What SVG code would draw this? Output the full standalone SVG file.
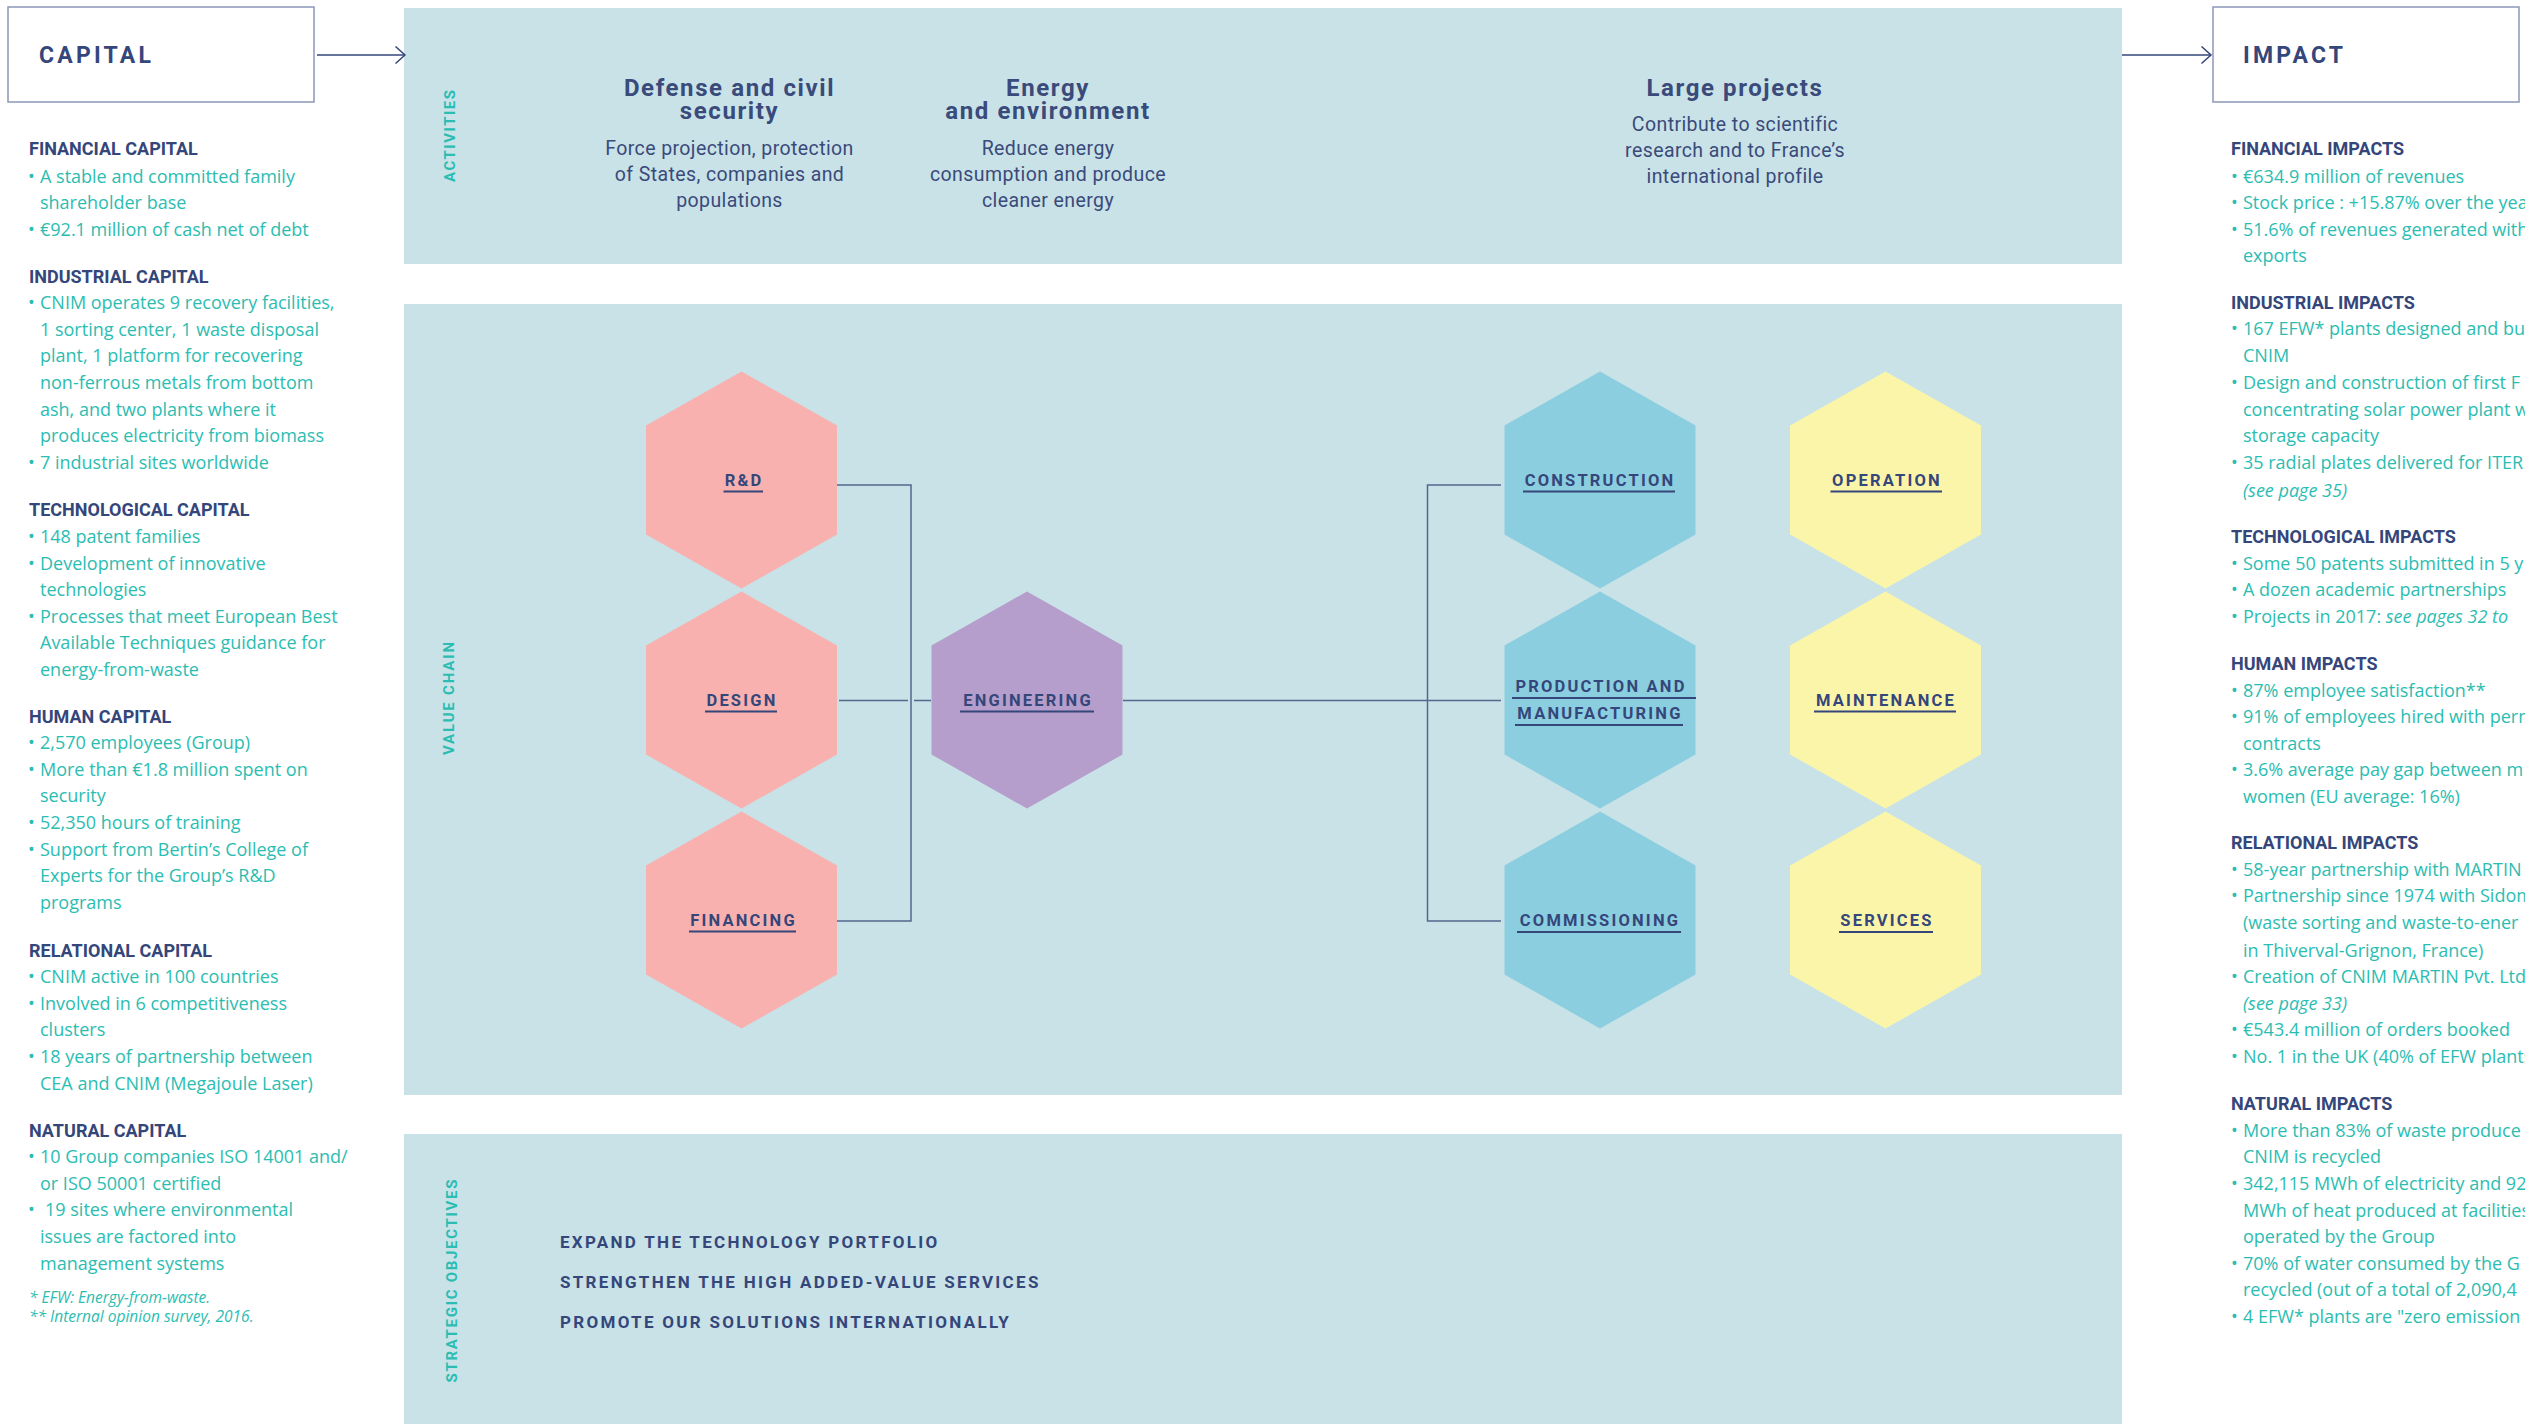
<svg xmlns="http://www.w3.org/2000/svg" width="2525" height="1424" viewBox="0 0 2525 1424">
<style>
.panel{fill:#c8e2e7}
.box{fill:#ffffff;stroke:#8d97b9;stroke-width:1.5}
.title{font-family:Roboto,"Liberation Sans",sans-serif;font-weight:700;font-size:23px;letter-spacing:3.2px;fill:#34467a}
.h{font-family:Roboto,"Liberation Sans",sans-serif;font-weight:700;font-size:18px;fill:#34467a}
.b{font-family:"Open Sans","Liberation Sans",sans-serif;font-size:18px;fill:#2bbdb2}
.bi{font-family:"Open Sans","Liberation Sans",sans-serif;font-size:18px;font-style:italic;fill:#2bbdb2}
.fn{font-family:"Open Sans","Liberation Sans",sans-serif;font-size:15.5px;font-style:italic;fill:#2bbdb2}
.vl{font-family:Roboto,"Liberation Sans",sans-serif;font-weight:700;font-size:15px;fill:#2bbdb2;text-anchor:middle}
.ah{font-family:Roboto,"Liberation Sans",sans-serif;font-weight:700;font-size:24px;letter-spacing:1.6px;fill:#3a4a7a;text-anchor:middle}
.ab{font-family:Roboto,"Liberation Sans",sans-serif;font-size:19.5px;letter-spacing:0.4px;fill:#3a4a7a;text-anchor:middle}
.obj{font-family:Roboto,"Liberation Sans",sans-serif;font-weight:700;font-size:17px;letter-spacing:2.3px;fill:#34467a}
.hl{font-family:Roboto,"Liberation Sans",sans-serif;font-weight:700;font-size:16.5px;letter-spacing:2.2px;fill:#34467a;text-anchor:middle}
.ul{stroke:#34467a;stroke-width:2}
.conn{stroke:#56668f;stroke-width:1.5;fill:none}
.arrow{stroke:#34467a;stroke-width:1.6;fill:none}
.pink{fill:#f8b1ae}
.purple{fill:#b59ecb}
.blue{fill:#8bcedf}
.yellow{fill:#fbf5aa}
</style>
<defs>
<polygon id="hex" points="0,-108.5 95.5,-54.5 95.5,54.5 0,108.5 -95.5,54.5 -95.5,-54.5"/>
<marker id="chev" markerWidth="12" markerHeight="20" refX="10" refY="9" orient="auto" markerUnits="userSpaceOnUse">
<path d="M0.5,0.5 L10,9 L0.5,17.5" fill="none" stroke="#34467a" stroke-width="1.5"/>
</marker>
</defs>
<rect width="2525" height="1424" fill="#ffffff"/>

<!-- panels -->
<g id="panels">
<rect class="panel" x="404" y="8" width="1718" height="256"/>
<rect class="panel" x="404" y="304" width="1718" height="791"/>
<rect class="panel" x="404" y="1134" width="1718" height="290"/>
<text class="vl" transform="translate(454.5,136) rotate(-90)" textLength="92" lengthAdjust="spacing">ACTIVITIES</text>
<text class="vl" transform="translate(454,698.5) rotate(-90)" textLength="113" lengthAdjust="spacing">VALUE CHAIN</text>
<text class="vl" transform="translate(456.5,1281) rotate(-90)" textLength="203" lengthAdjust="spacing">STRATEGIC OBJECTIVES</text>
</g>

<!-- capital box -->
<g id="capital">
<rect class="box" x="8" y="7" width="306" height="95"/>
<text class="title" x="39" y="63">CAPITAL</text>
</g>
<g id="impact">
<rect class="box" x="2213" y="7" width="306" height="95"/>
<text class="title" x="2243" y="63">IMPACT</text>
</g>

<!-- connectors -->
<g id="connectors">
<line class="arrow" x1="317" y1="55" x2="405" y2="55" marker-end="url(#chev)"/>
<line class="arrow" x1="2122" y1="55" x2="2211" y2="55" marker-end="url(#chev)"/>
<path class="conn" d="M837,485 H911 V921 H837"/>
<path class="conn" d="M839,700.5 H908 M914,700.5 H931"/>
<path class="conn" d="M1123,700.5 H1501"/>
<path class="conn" d="M1501,485 H1427.5 V921 H1501"/>
</g>

<!-- left column -->
<g id="capital-list">
<text class="h" x="29" y="155">FINANCIAL CAPITAL</text>
<text class="b" x="28" y="183">•</text><text class="b" x="40" y="183">A stable and committed family</text>
<text class="b" x="40" y="209">shareholder base</text>
<text class="b" x="28" y="236">•</text><text class="b" x="40" y="236">€92.1 million of cash net of debt</text>

<text class="h" x="29" y="283">INDUSTRIAL CAPITAL</text>
<text class="b" x="28" y="309">•</text><text class="b" x="40" y="309">CNIM operates 9 recovery facilities,</text>
<text class="b" x="40" y="336">1 sorting center, 1 waste disposal</text>
<text class="b" x="40" y="362">plant, 1 platform for recovering</text>
<text class="b" x="40" y="389">non-ferrous metals from bottom</text>
<text class="b" x="40" y="416">ash, and two plants where it</text>
<text class="b" x="40" y="442">produces electricity from biomass</text>
<text class="b" x="28" y="469">•</text><text class="b" x="40" y="469">7 industrial sites worldwide</text>

<text class="h" x="29" y="516">TECHNOLOGICAL CAPITAL</text>
<text class="b" x="28" y="543">•</text><text class="b" x="40" y="543">148 patent families</text>
<text class="b" x="28" y="570">•</text><text class="b" x="40" y="570">Development of innovative</text>
<text class="b" x="40" y="596">technologies</text>
<text class="b" x="28" y="623">•</text><text class="b" x="40" y="623">Processes that meet European Best</text>
<text class="b" x="40" y="649">Available Techniques guidance for</text>
<text class="b" x="40" y="676">energy-from-waste</text>

<text class="h" x="29" y="723">HUMAN CAPITAL</text>
<text class="b" x="28" y="749">•</text><text class="b" x="40" y="749">2,570 employees (Group)</text>
<text class="b" x="28" y="776">•</text><text class="b" x="40" y="776">More than €1.8 million spent on</text>
<text class="b" x="40" y="802">security</text>
<text class="b" x="28" y="829">•</text><text class="b" x="40" y="829">52,350 hours of training</text>
<text class="b" x="28" y="856">•</text><text class="b" x="40" y="856">Support from Bertin’s College of</text>
<text class="b" x="40" y="882">Experts for the Group’s R&amp;D</text>
<text class="b" x="40" y="909">programs</text>

<text class="h" x="29" y="957">RELATIONAL CAPITAL</text>
<text class="b" x="28" y="983">•</text><text class="b" x="40" y="983">CNIM active in 100 countries</text>
<text class="b" x="28" y="1010">•</text><text class="b" x="40" y="1010">Involved in 6 competitiveness</text>
<text class="b" x="40" y="1036">clusters</text>
<text class="b" x="28" y="1063">•</text><text class="b" x="40" y="1063">18 years of partnership between</text>
<text class="b" x="40" y="1090">CEA and CNIM (Megajoule Laser)</text>

<text class="h" x="29" y="1137">NATURAL CAPITAL</text>
<text class="b" x="28" y="1163">•</text><text class="b" x="40" y="1163">10 Group companies ISO 14001 and/</text>
<text class="b" x="40" y="1190">or ISO 50001 certified</text>
<text class="b" x="28" y="1216">•</text><text class="b" x="45" y="1216">19 sites where environmental</text>
<text class="b" x="40" y="1243">issues are factored into</text>
<text class="b" x="40" y="1270">management systems</text>

<text class="fn" x="29" y="1303">* EFW: Energy-from-waste.</text>
<text class="fn" x="29" y="1322">** Internal opinion survey, 2016.</text>
</g>

<!-- right column -->
<g id="impact-list">
<text class="h" x="2231" y="155">FINANCIAL IMPACTS</text>
<text class="b" x="2231" y="183">•</text><text class="b" x="2243" y="183">€634.9 million of revenues</text>
<text class="b" x="2231" y="209">•</text><text class="b" x="2243" y="209">Stock price : +15.87% over the yea</text>
<text class="b" x="2231" y="236">•</text><text class="b" x="2243" y="236">51.6% of revenues generated with</text>
<text class="b" x="2243" y="262">exports</text>

<text class="h" x="2231" y="309">INDUSTRIAL IMPACTS</text>
<text class="b" x="2231" y="335">•</text><text class="b" x="2243" y="335">167 EFW* plants designed and bu</text>
<text class="b" x="2243" y="362">CNIM</text>
<text class="b" x="2231" y="389">•</text><text class="b" x="2243" y="389">Design and construction of first F</text>
<text class="b" x="2243" y="416">concentrating solar power plant w</text>
<text class="b" x="2243" y="442">storage capacity</text>
<text class="b" x="2231" y="469">•</text><text class="b" x="2243" y="469">35 radial plates delivered for ITER</text>
<text class="bi" x="2243" y="497">(see page 35)</text>

<text class="h" x="2231" y="543">TECHNOLOGICAL IMPACTS</text>
<text class="b" x="2231" y="570">•</text><text class="b" x="2243" y="570">Some 50 patents submitted in 5 y</text>
<text class="b" x="2231" y="596">•</text><text class="b" x="2243" y="596">A dozen academic partnerships</text>
<text class="b" x="2231" y="623">•</text><text class="b" x="2243" y="623">Projects in 2017: <tspan font-style="italic">see pages 32 to</tspan></text>

<text class="h" x="2231" y="670">HUMAN IMPACTS</text>
<text class="b" x="2231" y="697">•</text><text class="b" x="2243" y="697">87% employee satisfaction**</text>
<text class="b" x="2231" y="723">•</text><text class="b" x="2243" y="723">91% of employees hired with perm</text>
<text class="b" x="2243" y="750">contracts</text>
<text class="b" x="2231" y="776">•</text><text class="b" x="2243" y="776">3.6% average pay gap between m</text>
<text class="b" x="2243" y="803">women (EU average: 16%)</text>

<text class="h" x="2231" y="849">RELATIONAL IMPACTS</text>
<text class="b" x="2231" y="876">•</text><text class="b" x="2243" y="876">58-year partnership with MARTIN</text>
<text class="b" x="2231" y="902">•</text><text class="b" x="2243" y="902">Partnership since 1974 with Sidom</text>
<text class="b" x="2243" y="929">(waste sorting and waste-to-ener</text>
<text class="b" x="2243" y="957">in Thiverval-Grignon, France)</text>
<text class="b" x="2231" y="983">•</text><text class="b" x="2243" y="983">Creation of CNIM MARTIN Pvt. Ltd.</text>
<text class="bi" x="2243" y="1010">(see page 33)</text>
<text class="b" x="2231" y="1036">•</text><text class="b" x="2243" y="1036">€543.4 million of orders booked</text>
<text class="b" x="2231" y="1063">•</text><text class="b" x="2243" y="1063">No. 1 in the UK (40% of EFW plants</text>

<text class="h" x="2231" y="1110">NATURAL IMPACTS</text>
<text class="b" x="2231" y="1137">•</text><text class="b" x="2243" y="1137">More than 83% of waste produce</text>
<text class="b" x="2243" y="1163">CNIM is recycled</text>
<text class="b" x="2231" y="1190">•</text><text class="b" x="2243" y="1190">342,115 MWh of electricity and 92,</text>
<text class="b" x="2243" y="1217">MWh of heat produced at facilities</text>
<text class="b" x="2243" y="1243">operated by the Group</text>
<text class="b" x="2231" y="1270">•</text><text class="b" x="2243" y="1270">70% of water consumed by the G</text>
<text class="b" x="2243" y="1296">recycled (out of a total of 2,090,4</text>
<text class="b" x="2231" y="1323">•</text><text class="b" x="2243" y="1323">4 EFW* plants are "zero emission</text>
</g>

<!-- activities -->
<g id="activity-defense">
<text class="ah" x="729.5" y="96">Defense and civil</text>
<text class="ah" x="729.5" y="119">security</text>
<text class="ab" x="729.5" y="155">Force projection, protection</text>
<text class="ab" x="729.5" y="181">of States, companies and</text>
<text class="ab" x="729.5" y="207">populations</text>
</g>
<g id="activity-energy">
<text class="ah" x="1048" y="96">Energy</text>
<text class="ah" x="1048" y="119">and environment</text>
<text class="ab" x="1048" y="155">Reduce energy</text>
<text class="ab" x="1048" y="181">consumption and produce</text>
<text class="ab" x="1048" y="207">cleaner energy</text>
</g>
<g id="activity-large">
<text class="ah" x="1735" y="96">Large projects</text>
<text class="ab" x="1735" y="131">Contribute to scientific</text>
<text class="ab" x="1735" y="157">research and to France’s</text>
<text class="ab" x="1735" y="183">international profile</text>
</g>

<!-- hexagon nodes -->
<g id="node-rd">
<use href="#hex" class="pink" x="741.5" y="480"/>
<text class="hl" x="744" y="486">R&amp;D</text>
<line class="ul" x1="723.5" y1="491.5" x2="763" y2="491.5"/>
</g>
<g id="node-design">
<use href="#hex" class="pink" x="741.5" y="700"/>
<text class="hl" x="742" y="706">DESIGN</text>
<line class="ul" x1="705" y1="711.5" x2="777" y2="711.5"/>
</g>
<g id="node-financing">
<use href="#hex" class="pink" x="741.5" y="920"/>
<text class="hl" x="743.5" y="926">FINANCING</text>
<line class="ul" x1="689" y1="931.5" x2="796" y2="931.5"/>
</g>
<g id="node-engineering">
<use href="#hex" class="purple" x="1027" y="700"/>
<text class="hl" x="1028" y="706">ENGINEERING</text>
<line class="ul" x1="960" y1="711.5" x2="1094" y2="711.5"/>
</g>
<g id="node-construction">
<use href="#hex" class="blue" x="1600" y="480"/>
<text class="hl" x="1600" y="486">CONSTRUCTION</text>
<line class="ul" x1="1523" y1="491.5" x2="1675" y2="491.5"/>
</g>
<g id="node-production">
<use href="#hex" class="blue" x="1600" y="700"/>
<text class="hl" x="1601" y="692">PRODUCTION AND</text>
<line class="ul" x1="1512" y1="698" x2="1696" y2="698"/>
<text class="hl" x="1600" y="719">MANUFACTURING</text>
<line class="ul" x1="1515" y1="725" x2="1683" y2="725"/>
</g>
<g id="node-commissioning">
<use href="#hex" class="blue" x="1600" y="920"/>
<text class="hl" x="1600" y="926">COMMISSIONING</text>
<line class="ul" x1="1517" y1="932" x2="1681" y2="932"/>
</g>
<g id="node-operation">
<use href="#hex" class="yellow" x="1885.5" y="480"/>
<text class="hl" x="1887" y="486">OPERATION</text>
<line class="ul" x1="1830.5" y1="491.5" x2="1942" y2="491.5"/>
</g>
<g id="node-maintenance">
<use href="#hex" class="yellow" x="1885.5" y="700"/>
<text class="hl" x="1886" y="706">MAINTENANCE</text>
<line class="ul" x1="1814" y1="711.5" x2="1956" y2="711.5"/>
</g>
<g id="node-services">
<use href="#hex" class="yellow" x="1885.5" y="920"/>
<text class="hl" x="1887" y="926">SERVICES</text>
<line class="ul" x1="1839" y1="932" x2="1933" y2="932"/>
</g>

<!-- strategic objectives -->
<g id="objectives">
<text class="obj" x="560" y="1248">EXPAND THE TECHNOLOGY PORTFOLIO</text>
<text class="obj" x="560" y="1288">STRENGTHEN THE HIGH ADDED-VALUE SERVICES</text>
<text class="obj" x="560" y="1328">PROMOTE OUR SOLUTIONS INTERNATIONALLY</text>
</g>
</svg>
